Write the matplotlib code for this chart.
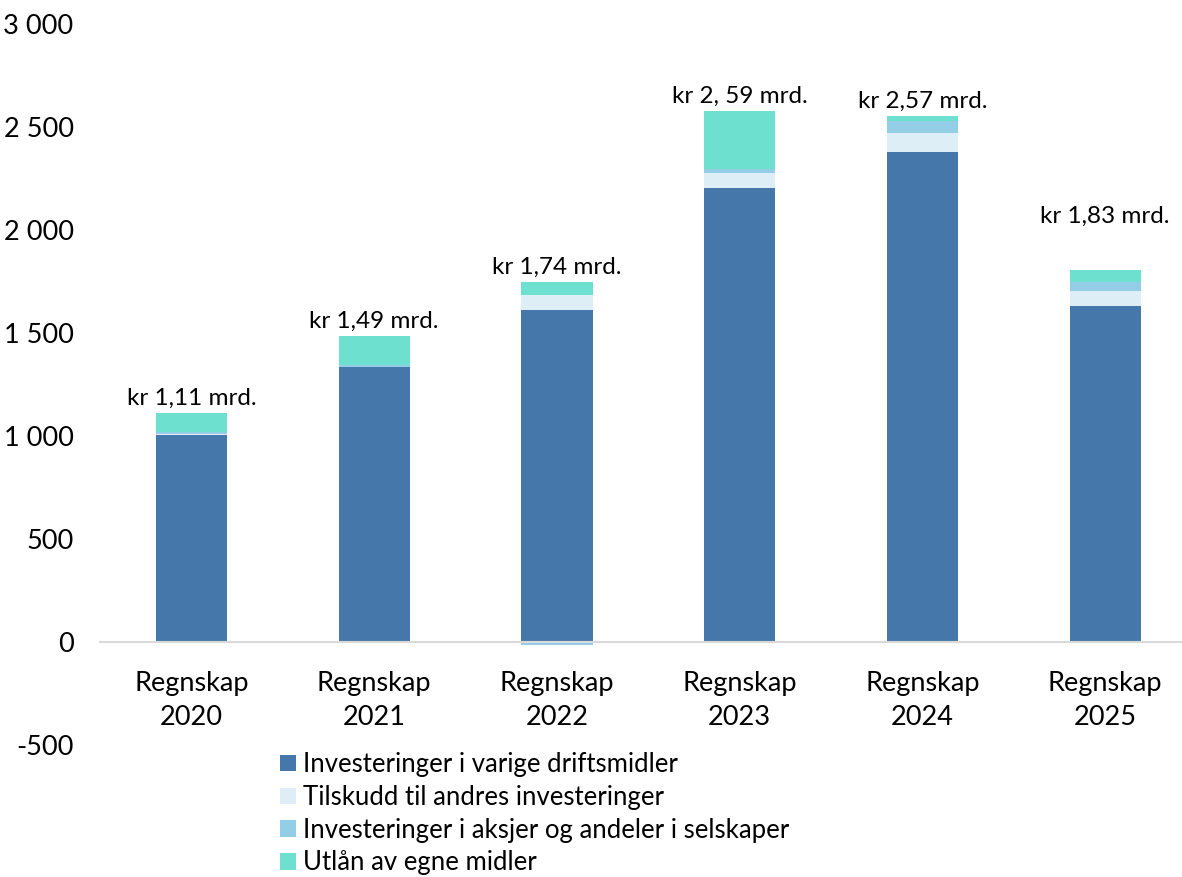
import numpy as np
import matplotlib.pyplot as plt
from matplotlib.ticker import FuncFormatter

plt.rcParams['font.family'] = ['Lato', 'DejaVu Sans']

categories = ['Regnskap\n2020', 'Regnskap\n2021', 'Regnskap\n2022',
              'Regnskap\n2023', 'Regnskap\n2024', 'Regnskap\n2025']
varige = [1005, 1335, 1612, 2204, 2379, 1631]
tilskudd = [3, 2, 72, 73, 92, 73]
aksjer = [12, 10, -15, 19, 58, 44]
utlan = [90, 140, 64, 282, 24, 58]
labels = ['kr 1,11 mrd.', 'kr 1,49 mrd.', 'kr 1,74 mrd.',
          'kr 2, 59 mrd.', 'kr 2,57 mrd.', 'kr 1,83 mrd.']

series = [
    ('Investeringer i varige driftsmidler', varige, '#4677AB'),
    ('Tilskudd til andres investeringer', tilskudd, '#DDEEF6'),
    ('Investeringer i aksjer og andeler i selskaper', aksjer, '#93CDE6'),
    ('Utlån av egne midler', utlan, '#6DE0D0'),
]

fig = plt.figure(figsize=(11.82, 8.77), dpi=100)
ax = fig.add_axes([100 / 1182, 1 - 745 / 877, 1 - 100 / 1182, (745 - 24) / 877])

x = np.arange(len(categories))
pos_base = np.zeros(len(categories))
neg_base = np.zeros(len(categories))
for name, vals, col in series:
    v = np.array(vals, dtype=float)
    bottom = np.where(v >= 0, pos_base, neg_base)
    ax.bar(x, v, 0.39, bottom=bottom, color=col, label=name, zorder=3)
    pos_base += np.where(v >= 0, v, 0)
    neg_base += np.where(v < 0, v, 0)

# data labels above the stacks (last one sits a bit higher, as in the original)
extra = [0, 0, 0, 0, 0, 28]
for i, lab in enumerate(labels):
    ax.annotate(lab, (x[i], pos_base[i]), xytext=(0, 3 + extra[i]),
                textcoords='offset points', ha='center', va='bottom', fontsize=17.5)

# category labels under the zero line (drawn as text to get wider line spacing)
for i, cat in enumerate(categories):
    ax.annotate(cat, (x[i], 0), xytext=(0, -21), textcoords='offset points',
                ha='center', va='top', fontsize=19.5, linespacing=1.45)

ax.set_xlim(-0.5, 5.42)
ax.set_ylim(-500, 3000)
ax.set_yticks(np.arange(-500, 3001, 500))
ax.yaxis.set_major_formatter(FuncFormatter(lambda v, p: f'{int(v):,}'.replace(',', ' ')))
ax.set_xticks(x)
ax.set_xticklabels([])
ax.tick_params(axis='both', length=0, labelsize=19.5)
ax.tick_params(axis='y', pad=19)
for s in ['top', 'right', 'left']:
    ax.spines[s].set_visible(False)
ax.spines['bottom'].set_position(('data', 0))
ax.spines['bottom'].set_color('#D9D9D9')
ax.spines['bottom'].set_linewidth(1.5)
ax.spines['bottom'].set_zorder(4)

leg = fig.legend(loc='upper left', bbox_to_anchor=(270 / 1182, 1 - 742 / 877),
                 frameon=False, fontsize=18.5, handlelength=0.6, handleheight=0.6,
                 handletextpad=0.3, labelspacing=0.3, borderaxespad=0)

plt.savefig('out.png', dpi=100)
